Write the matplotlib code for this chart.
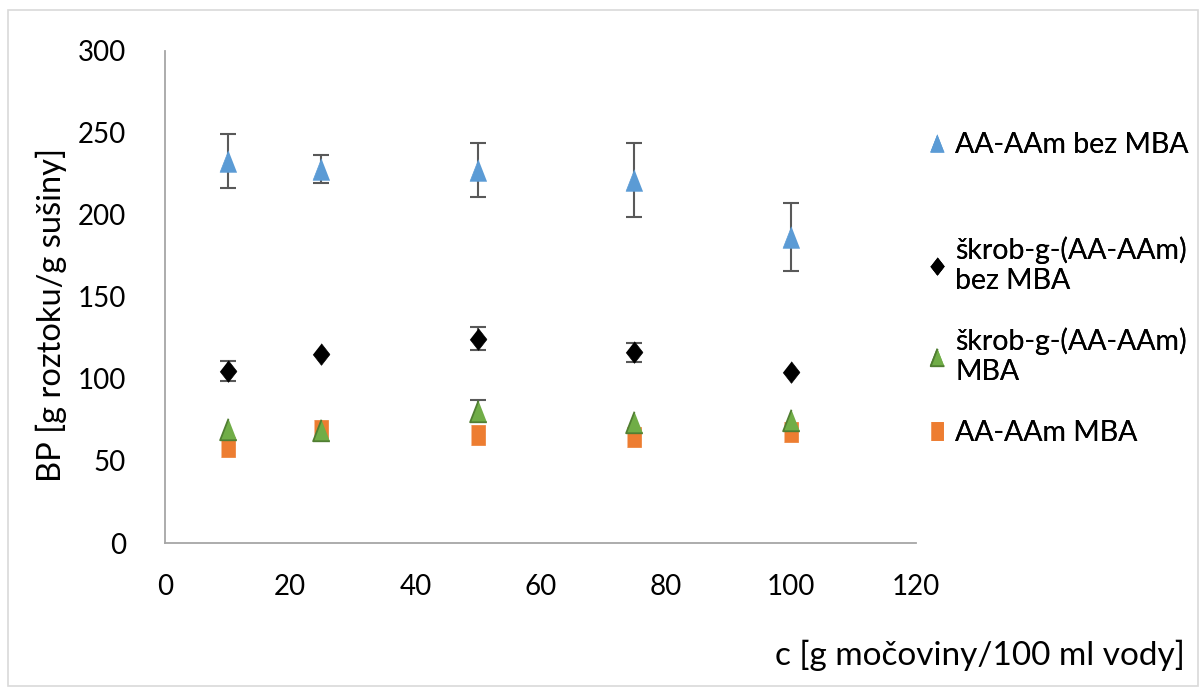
import numpy as np
import matplotlib.pyplot as plt
from matplotlib.lines import Line2D

plt.rcParams['font.family'] = ['Lato', 'DejaVu Sans']

# data
c = [10, 25, 50, 75, 100]
aa_bez = [233, 228, 227.5, 221.5, 186.7]
aa_bez_err = [16.5, 8.5, 16.7, 22.5, 20.6]
skrob_bez = [104.9, 115, 124.6, 116.2, 104.3]
skrob_bez_err = [6, 0, 7, 6, 0]
skrob_mba = [69.3, 68.6, 80.6, 73.5, 75]
skrob_mba_err = [0, 0, 6.5, 0, 0]
aa_mba = [58.4, 68.9, 65.9, 64.8, 67.6]

labels = ['AA-AAm bez MBA', 'škrob-g-(AA-AAm)\nbez MBA',
          'škrob-g-(AA-AAm)\nMBA', 'AA-AAm MBA']

# Excel-like (slightly tall) marker shapes
tri = [(0, 1), (-0.78, -1), (0.78, -1)]
dia = [(0, 1), (0.78, 0), (0, -1), (-0.78, 0)]
sq = [(-0.72, -1), (0.72, -1), (0.72, 1), (-0.72, 1)]
ms = 15.5

fig = plt.figure(figsize=(12.03, 6.88), dpi=100)
ax = fig.add_axes([165/1203, 1-543/688, 751/1203, 492/688])

err_kw = dict(fmt='none', ecolor='#595959', elinewidth=1.5, capsize=5.5,
              capthick=1.5, zorder=2)
for y, e in [(aa_bez, aa_bez_err), (skrob_bez, skrob_bez_err),
             (skrob_mba, skrob_mba_err)]:
    x_, y_, e_ = np.array(c), np.array(y), np.array(e)
    m = e_ > 0
    ax.errorbar(x_[m], y_[m], yerr=e_[m], **err_kw)

h4, = ax.plot(c, aa_mba, ls='none', marker=sq, ms=14.5, mfc='#ed7d31',
              mec='#ed7d31', mew=0.5, zorder=3)
h3, = ax.plot(c, skrob_mba, ls='none', marker=tri, ms=ms, mfc='#70ad47',
              mec='#507e32', mew=1.3, zorder=4)
h2, = ax.plot(c, skrob_bez, ls='none', marker=dia, ms=ms, mfc='black',
              mec='black', mew=0.5, zorder=4)
h1, = ax.plot(c, aa_bez, ls='none', marker=tri, ms=ms, mfc='#5b9bd5',
              mec='#5b9bd5', mew=0.5, zorder=4)

ax.set_xlim(0, 120)
ax.set_ylim(0, 300)
ax.set_xticks(np.arange(0, 121, 20))
ax.set_yticks(np.arange(0, 301, 50))
ax.tick_params(length=0, labelsize=20)
ax.tick_params(axis='y', pad=28)
ax.tick_params(axis='x', pad=22)
for s in ['top', 'right']:
    ax.spines[s].set_visible(False)
for s in ['left', 'bottom']:
    ax.spines[s].set_color('#a6a6a6')
    ax.spines[s].set_linewidth(1.3)

fig.text(51/1203, 1-315/688, 'BP [g roztoku/g sušiny]', fontsize=23.5,
         rotation=90, ha='center', va='center')
fig.text(1185/1203, 1-655/688, 'c [g močoviny/100 ml vody]', fontsize=24,
         ha='right', va='center')

# legend entries placed one by one (Excel spreads them unevenly)
leg_y = [145, 265, 356, 433]
handles = [h1, h2, h3, h4]
for h, lab, y in zip(handles, labels, leg_y):
    mh = Line2D([], [], ls='none', marker=h.get_marker(), ms=12.5,
                mfc=h.get_markerfacecolor(), mec=h.get_markeredgecolor(),
                mew=h.get_markeredgewidth())
    lg = fig.legend([mh], [lab], loc='center left',
                    bbox_to_anchor=(928/1203, 1-y/688), frameon=False,
                    fontsize=20.5, handlelength=0.6, handletextpad=0.35,
                    borderaxespad=0, borderpad=0)
    fig.add_artist(lg)

# chart area border
fig.patches.append(plt.Rectangle((8/1203, 2/688), 1190/1203, 676/688,
                                 transform=fig.transFigure, fill=False,
                                 ec='#d9d9d9', lw=1.2))

fig.savefig('out.png', dpi=100)
